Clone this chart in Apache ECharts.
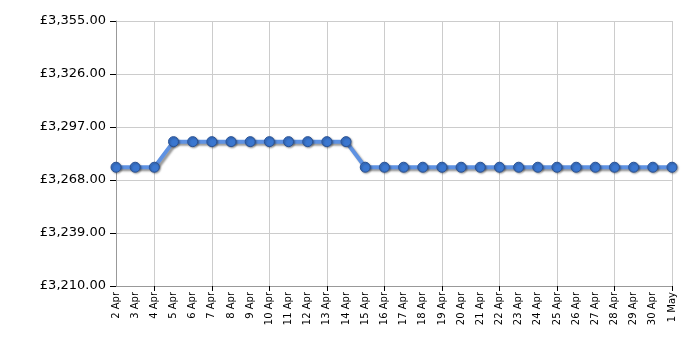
<!DOCTYPE html>
<html><head><meta charset="utf-8">
<script src="https://cdn.jsdelivr.net/npm/echarts@6/dist/echarts.min.js"></script>
<style>html,body{margin:0;padding:0;background:#fff}#c{width:700px;height:350px}</style>
</head><body><div id="c"></div>
<script>
const categories = ['2 Apr','3 Apr','4 Apr','5 Apr','6 Apr','7 Apr','8 Apr','9 Apr','10 Apr','11 Apr','12 Apr','13 Apr','14 Apr','15 Apr','16 Apr','17 Apr','18 Apr','19 Apr','20 Apr','21 Apr','22 Apr','23 Apr','24 Apr','25 Apr','26 Apr','27 Apr','28 Apr','29 Apr','30 Apr','1 May'];
const prices = [3274.99,3274.99,3274.99,3288.99,3288.99,3288.99,3288.99,3288.99,3288.99,3288.99,3288.99,3288.99,3288.99,3274.99,3274.99,3274.99,3274.99,3274.99,3274.99,3274.99,3274.99,3274.99,3274.99,3274.99,3274.99,3274.99,3274.99,3274.99,3274.99,3274.99];
const yMin = 3210, yMax = 3355, yStep = 29;

const every3 = (i) => i % 3 === 2;
const chart = echarts.init(document.getElementById('c'), null, {renderer:'canvas'});
chart.setOption({
  animation:false,
  grid:{left:116,right:28,top:21,bottom:64,containLabel:false},
  xAxis:{
    type:'category',data:categories,boundaryGap:false,
    axisLine:{lineStyle:{color:'#999',width:1}},
    axisTick:{show:true,interval:every3,length:5,lineStyle:{color:'#000'}},
    splitLine:{show:true,interval:every3,lineStyle:{color:'#ccc',width:1}},
    axisLabel:{interval:0,rotate:90,fontFamily:'DejaVu Sans',fontSize:10,color:'#000',margin:6}
  },
  yAxis:{
    type:'value',min:yMin,max:yMax,interval:yStep,
    axisLine:{show:true,lineStyle:{color:'#999'}},
    axisTick:{show:true,length:6,lineStyle:{color:'#000'}},
    splitLine:{show:true,lineStyle:{color:'#ccc'}},
    axisLabel:{fontFamily:'DejaVu Sans',fontSize:13,color:'#000',margin:10,
      formatter:v=>'£'+v.toLocaleString('en-GB',{minimumFractionDigits:2,maximumFractionDigits:2})}
  },
  series:[{
    type:'line',data:prices,symbol:'circle',symbolSize:10,
    lineStyle:{color:'#5f92e2',width:4,shadowColor:'rgba(0,0,0,0.4)',shadowBlur:2,shadowOffsetX:2,shadowOffsetY:2},
    itemStyle:{color:'#3b77d0',borderColor:'#2a5294',borderWidth:1,shadowColor:'rgba(0,0,0,0.35)',shadowBlur:2,shadowOffsetX:1,shadowOffsetY:1}
  }]
});
</script></body></html>
